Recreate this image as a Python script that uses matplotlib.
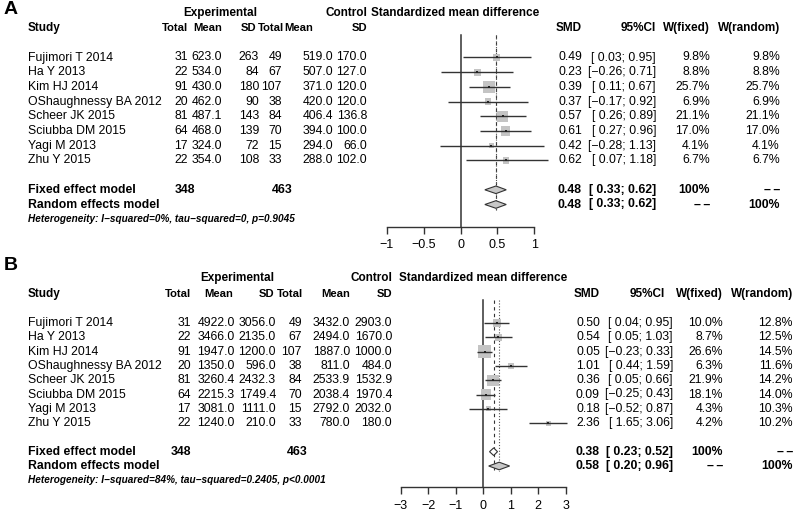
import numpy as np
import matplotlib.pyplot as plt
from matplotlib.patches import Polygon

plt.rcParams['font.family'] = ['Liberation Sans', 'DejaVu Sans']

W, H = 800, 524

studies = ['Fujimori T 2014', 'Ha Y 2013', 'Kim HJ 2014', 'OShaughnessy BA 2012',
           'Scheer JK 2015', 'Sciubba DM 2015', 'Yagi M 2013', 'Zhu Y 2015']

# Panel A
a_exp_total = [31, 22, 91, 20, 81, 64, 17, 22]
a_exp_mean = [623.0, 534.0, 430.0, 462.0, 487.1, 468.0, 324.0, 354.0]
a_exp_sd = [263, 84, 180, 90, 143, 139, 72, 108]
a_ctl_total = [49, 67, 107, 38, 84, 70, 15, 33]
a_ctl_mean = [519.0, 507.0, 371.0, 420.0, 406.4, 394.0, 294.0, 288.0]
a_ctl_sd = [170.0, 127.0, 120.0, 120.0, 136.8, 100.0, 66.0, 102.0]
a_smd = [0.49, 0.23, 0.39, 0.37, 0.57, 0.61, 0.42, 0.62]
a_lo = [0.03, -0.26, 0.11, -0.17, 0.26, 0.27, -0.28, 0.07]
a_hi = [0.95, 0.71, 0.67, 0.92, 0.89, 0.96, 1.13, 1.18]
a_wfix = [9.8, 8.8, 25.7, 6.9, 21.1, 17.0, 4.1, 6.7]
a_wran = [9.8, 8.8, 25.7, 6.9, 21.1, 17.0, 4.1, 6.7]
a_fixed = [0.48, 0.33, 0.62]
a_random = [0.48, 0.33, 0.62]
a_totals = [348, 463]
a_het = 'Heterogeneity: I\u2212squared=0%, tau\u2212squared=0, p=0.9045'
a_ticks = [-1, -0.5, 0, 0.5, 1]
a_ticklabels = ['\u22121', '\u22120.5', '0', '0.5', '1']

# Panel B
b_exp_total = [31, 22, 91, 20, 81, 64, 17, 22]
b_exp_mean = [4922.0, 3466.0, 1947.0, 1350.0, 3260.4, 2215.3, 3081.0, 1240.0]
b_exp_sd = [3056.0, 2135.0, 1200.0, 596.0, 2432.3, 1749.4, 1111.0, 210.0]
b_ctl_total = [49, 67, 107, 38, 84, 70, 15, 33]
b_ctl_mean = [3432.0, 2494.0, 1887.0, 811.0, 2533.9, 2038.4, 2792.0, 780.0]
b_ctl_sd = [2903.0, 1670.0, 1000.0, 484.0, 1532.9, 1970.4, 2032.0, 180.0]
b_smd = [0.50, 0.54, 0.05, 1.01, 0.36, 0.09, 0.18, 2.36]
b_lo = [0.04, 0.05, -0.23, 0.44, 0.05, -0.25, -0.52, 1.65]
b_hi = [0.95, 1.03, 0.33, 1.59, 0.66, 0.43, 0.87, 3.06]
b_wfix = [10.0, 8.7, 26.6, 6.3, 21.9, 18.1, 4.3, 4.2]
b_wran = [12.8, 12.5, 14.5, 11.6, 14.2, 14.0, 10.3, 10.2]
b_fixed = [0.38, 0.23, 0.52]
b_random = [0.58, 0.20, 0.96]
b_totals = [348, 463]
b_het = 'Heterogeneity: I\u2212squared=84%, tau\u2212squared=0.2405, p<0.0001'
b_ticks = [-3, -2, -1, 0, 1, 2, 3]
b_ticklabels = ['\u22123', '\u22122', '\u22121', '0', '1', '2', '3']

FS = 8.8
HFS = 8.1
LINE = '#333333'
DASH = '\u2013\u2009\u2013'


def ci_text(lo, hi):
    return ('[%5.2f; %.2f]' % (lo, hi)).replace('-', '\u2212')


def draw_panel(fig, letter, d, lay):
    y0, dy = lay['y0'], lay['dy']

    def py(r):
        return 1 - (y0 + r * dy) / H

    def txt(x, r, s, ha='right', bold=False, fs=FS, **kw):
        fig.text(x / W, py(r), s, ha=ha, va='center', fontsize=fs,
                 fontweight='bold' if bold else 'normal', **kw)

    # panel letter and headers
    fig.text(lay['letter'][0] / W, 1 - lay['letter'][1] / H, letter, fontsize=14,
             fontweight='bold', ha='left', va='center')
    c = lay['cols']
    txt(lay['exp_center'], lay['top_row'], 'Experimental', ha='center', bold=True, fs=HFS + 0.4)
    txt(c[5], lay['top_row'], 'Control', bold=True, fs=HFS + 0.4)
    txt(lay['smd_title'], lay['top_row'], 'Standardized mean difference', ha='left',
        bold=True, fs=HFS + 0.4)
    txt(28, lay['hdr_row'], 'Study', ha='left', bold=True, fs=HFS + 0.4)
    for x, s in zip(lay['hdr'], ['Total', 'Mean', 'SD', 'Total', 'Mean', 'SD']):
        txt(x, lay['hdr_row'], s, bold=True, fs=HFS)
    rc = lay['rcols']
    for x, s in zip(lay['rhdr'], ['SMD', '95%CI', 'W(fixed)', 'W(random)']):
        txt(x, lay['hdr_row'], s, bold=True, fs=HFS + 0.4)

    # study rows
    cols = [d['exp_total'], d['exp_mean'], d['exp_sd'], d['ctl_total'], d['ctl_mean'], d['ctl_sd']]
    for i, name in enumerate(studies):
        txt(28, i, name, ha='left')
        for x, vals, f in zip(c, cols, d['fmt']):
            txt(x, i, f % vals[i])
        txt(rc[0], i, '%.2f' % d['smd'][i])
        txt(rc[1], i, ci_text(d['lo'][i], d['hi'][i]))
        txt(rc[2], i, '%.1f%%' % d['wfix'][i])
        txt(rc[3], i, '%.1f%%' % d['wran'][i])

    # summary rows
    n = len(studies)
    fr, rr = n + 1, n + 2
    txt(28, fr, 'Fixed effect model', ha='left', bold=True)
    txt(lay['tot_x'][0], fr, str(d['totals'][0]), bold=True)
    txt(lay['tot_x'][1], fr, str(d['totals'][1]), bold=True)
    txt(28, rr, 'Random effects model', ha='left', bold=True)
    for r, m, wf, wr in [(fr, d['fixed'], '100%', DASH), (rr, d['random'], DASH, '100%')]:
        txt(rc[0], r, '%.2f' % m[0], bold=True)
        txt(rc[1], r, ci_text(m[1], m[2]), bold=True)
        txt(rc[2], r, wf, bold=True)
        txt(rc[3], r, wr, bold=True)
    fig.text(28 / W, py(n + 3), d['het'], ha='left', va='center', fontsize=7.2,
             fontweight='bold', fontstyle='italic')

    # forest axes, x in SMD units, y in row units
    left, right, top, bottom = lay['box']
    zero, scale = lay['zero'], lay['scale']
    ax = fig.add_axes([left / W, 1 - bottom / H, (right - left) / W, (bottom - top) / H])
    ax.set_xlim((left - zero) / scale, (right - zero) / scale)
    ax.set_ylim((bottom - y0) / dy, (top - y0) / dy)
    ax.patch.set_visible(False)
    for s in ['top', 'left', 'right']:
        ax.spines[s].set_visible(False)
    ax.spines['bottom'].set_position(('data', lay['axis_row']))
    ax.spines['bottom'].set_bounds(d['ticks'][0], d['ticks'][-1])
    ax.spines['bottom'].set_color(LINE)
    ax.spines['bottom'].set_linewidth(1.0)
    ax.set_yticks([])
    ax.set_xticks(d['ticks'])
    ax.set_xticklabels(d['ticklabels'])
    ax.tick_params(axis='x', direction='out', length=5, width=1.0, color=LINE,
                   labelsize=9, pad=4)

    ax.plot([0, 0], [lay['zero_top'], lay['axis_row']], color=LINE, lw=1.1)
    ax.plot([d['fixed'][0]] * 2, [lay['zero_top'], rr + 0.35], color=LINE, lw=0.8,
            ls=(0, (3, 3)))
    ax.plot([d['random'][0]] * 2, [lay['zero_top'], rr + 0.35], color='#555555', lw=0.8,
            ls=(0, (1, 1.6)))

    rows = np.arange(n)
    sides = lay['k'] * np.sqrt(np.array(d['wfix'])) * 0.72
    ax.scatter(d['smd'], rows, s=sides ** 2, marker='s', color='#c4c4c4', lw=0, zorder=2)
    ax.hlines(rows, d['lo'], d['hi'], color=LINE, lw=1.0, zorder=3)
    ax.scatter(d['smd'], rows, s=3, marker='s', color='#222222', lw=0, zorder=4)

    h = 3.8 / dy
    for r, m, fc in [(fr, d['fixed'], lay['fixed_fc']), (rr, d['random'], '#c8c8c8')]:
        poly = Polygon([(m[1], r), (m[0], r - h), (m[2], r), (m[0], r + h)], closed=True,
                       facecolor=fc, edgecolor=LINE, lw=0.8, zorder=5)
        ax.add_patch(poly)


fig = plt.figure(figsize=(W / 100, H / 100), dpi=100)

data_a = dict(exp_total=a_exp_total, exp_mean=a_exp_mean, exp_sd=a_exp_sd,
              ctl_total=a_ctl_total, ctl_mean=a_ctl_mean, ctl_sd=a_ctl_sd,
              fmt=['%d', '%.1f', '%d', '%d', '%.1f', '%.1f'],
              smd=a_smd, lo=a_lo, hi=a_hi, wfix=a_wfix, wran=a_wran,
              fixed=a_fixed, random=a_random, totals=a_totals, het=a_het,
              ticks=a_ticks, ticklabels=a_ticklabels)
lay_a = dict(y0=57.5, dy=14.7, letter=(4, 10), top_row=-3.0, hdr_row=-2.0,
             exp_center=220, smd_title=371,
             cols=[188, 222, 259, 282, 333, 367], hdr=[188, 222, 256, 284, 313, 367],
             rcols=[582, 656, 710, 780], rhdr=[582, 656, 710, 780], tot_x=[195, 293],
             box=(372, 570, 25, 262), zero=460.5, scale=73.8, axis_row=11.5,
             zero_top=-1.55, k=2.4, fixed_fc='#c8c8c8')
draw_panel(fig, 'A', data_a, lay_a)

data_b = dict(exp_total=b_exp_total, exp_mean=b_exp_mean, exp_sd=b_exp_sd,
              ctl_total=b_ctl_total, ctl_mean=b_ctl_mean, ctl_sd=b_ctl_sd,
              fmt=['%d', '%.1f', '%.1f', '%d', '%.1f', '%.1f'],
              smd=b_smd, lo=b_lo, hi=b_hi, wfix=b_wfix, wran=b_wran,
              fixed=b_fixed, random=b_random, totals=b_totals, het=b_het,
              ticks=b_ticks, ticklabels=b_ticklabels)
lay_b = dict(y0=323, dy=14.3, letter=(4, 266), top_row=-3.15, hdr_row=-2.05,
             exp_center=237, smd_title=399,
             cols=[191, 235, 276, 302, 350, 392], hdr=[191, 233, 274, 303, 350, 392],
             rcols=[600, 673, 723, 793], rhdr=[600, 665, 723, 793], tot_x=[191, 308],
             box=(392, 590, 290, 522), zero=483.2, scale=27.5, axis_row=11.5,
             zero_top=-1.6, k=2.4, fixed_fc='white')
draw_panel(fig, 'B', data_b, lay_b)

fig.savefig('out.png', dpi=100)
